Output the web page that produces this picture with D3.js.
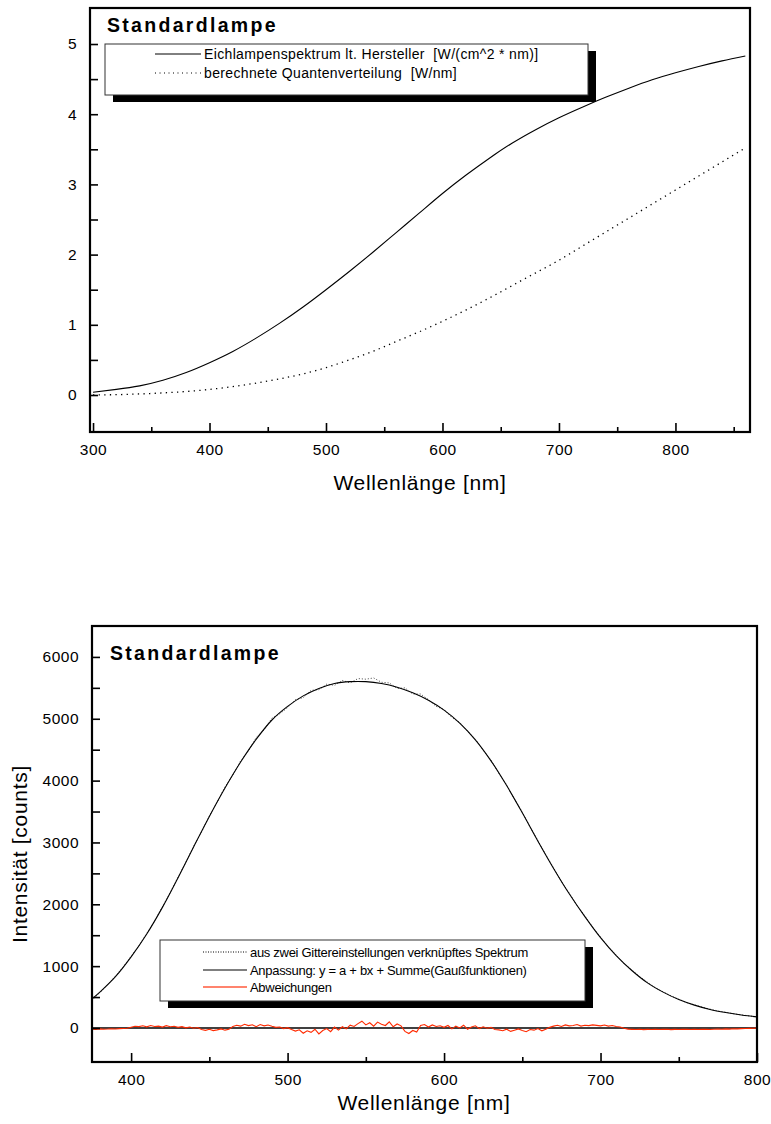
<!DOCTYPE html>
<html>
<head>
<meta charset="utf-8">
<script src="https://cdn.jsdelivr.net/npm/d3@7"></script>
<style>
  body { margin: 0; background: #fff; }
  svg text { font-family: "Liberation Sans", Arial, sans-serif; fill: #000; }
</style>
</head>
<body>
<svg id="chart" width="771" height="1124"></svg>
<script>
// ---------- Panel 1: calibration lamp ----------
const lampWavelengths = [300,320,340,360,380,400,420,440,460,480,500,520,540,560,580,600,620,640,660,680,700,720,740,760,780,800,820,840,860];
const lampSpectrum =     [0.04,0.08,0.13,0.21,0.32,0.46,0.62,0.81,1.02,1.25,1.50,1.76,2.03,2.31,2.59,2.87,3.13,3.37,3.59,3.78,3.95,4.10,4.24,4.37,4.49,4.59,4.68,4.76,4.83];
const quantumDistribution = [0.00,0.005,0.015,0.03,0.05,0.08,0.12,0.17,0.23,0.30,0.39,0.50,0.62,0.76,0.90,1.05,1.21,1.38,1.56,1.74,1.92,2.12,2.32,2.52,2.72,2.92,3.12,3.32,3.52];
const lampTicksX = [300,400,500,600,700,800];
const lampMinorX = [350,450,550,650,750,850];
const lampTicksY = [0,1,2,3,4,5];
const lampMinorY = [0.5,1.5,2.5,3.5,4.5];
const lampLegend = ["Eichlampenspektrum lt. Hersteller  [W/(cm^2 * nm)]", "berechnete Quantenverteilung  [W/nm]"];

// ---------- Panel 2: measured spectrum and fit ----------
// measured counts on a 5 nm grid, 375..800 nm
const measuredCounts = [450,570,700,840,990,1160,1330,1530,1730,1960,2190,2440,2680,2940,3170,3430,3650,3900,4090,4320,
  4480,4700,4820,5010,5080,5180,5310,5340,5460,5470,5560,5540,5620,5580,5650,5640,5660,5590,5580,5490,
  5500,5400,5400,5310,5200,5150,5020,4940,4800,4670,4490,4330,4120,3930,3700,3490,3250,3030,2800,2590,
  2370,2180,1980,1810,1630,1470,1310,1180,1040,940,830,740,650,585,520,465,410,375,335,305,
  275,255,230,212,195,182];
// fitted curve y = a + bx + sum of Gaussians
const fitWavelengths = [375,380,390,400,410,420,430,440,450,460,470,480,490,500,510,520,530,540,550,560,570,580,590,600,610,620,630,640,650,660,670,680,690,700,710,720,730,740,750,760,770,780,790,800];
const fitCounts = [470,580,830,1150,1520,1950,2430,2930,3420,3880,4300,4670,4980,5200,5370,5490,5570,5600,5600,5570,5510,5420,5300,5140,4930,4660,4320,3920,3480,3020,2580,2170,1800,1460,1170,930,730,580,460,370,300,250,210,180];
// deviations measured - fit on a 2.5 nm grid, 375..800 nm
const deviations = [
  -18,-22,-15,-20,-17,-12,-16,-10,-8,-5,
  12,28,22,35,18,40,25,30,15,38,20,27,
  10,22,2,15,-5,8,
  -25,-38,-20,-42,-30,-15,-35,-22,
  25,45,30,60,38,52,20,55,35,48,28,10,
  15,-10,5,-25,
  -50,-30,-85,-45,-70,-20,-95,-40,-10,-60,15,-35,20,-15,
  45,25,70,110,50,85,30,95,60,40,100,20,65,35,
  -55,-90,-40,-65,
  40,55,15,50,25,35,
  10,40,-15,30,0,45,-20,15,35,-10,20,-5,10,-25,
  -30,-45,-20,-55,-35,-15,-40,-60,-25,-35,-10,-45,-20,
  10,30,45,25,50,35,40,55,30,45,38,50,42,35,48,30,40,25,15,
  -5,-18,
  -22,-25,-20,-26,-22,-24,-20,-25,-23,-21,-26,-22,-24,-20,-23,-25,-21,-24,-22,-20,-25,-21,-18,-20,
  -15,-18,-12,-14,-10,-8,-6,-5,-3];
const specTicksX = [400,500,600,700,800];
const specMinorX = [450,550,650,750];
const specTicksY = [0,1000,2000,3000,4000,5000,6000];
const specMinorY = [500,1500,2500,3500,4500,5500];
const specLegend = ["aus zwei Gittereinstellungen verknüpftes Spektrum", "Anpassung: y = a + bx + Summe(Gaußfunktionen)", "Abweichungen"];

const measuredWavelengths = d3.range(375, 800.01, 5);
const deviationWavelengths = d3.range(375, 800.01, 2.5);

const svg = d3.select("#chart");
const RED = "#ff2a00";

function framePanel(g, x, y, ticks, id) {
  const [x0, x1] = x.range();
  const [y0, y1] = y.range();
  g.append("clipPath").attr("id", id).append("rect")
    .attr("x", x0).attr("y", y1).attr("width", x1 - x0).attr("height", y0 - y1);

  const axB = g.append("g").attr("transform", `translate(0,${y0})`)
    .call(d3.axisBottom(x).tickValues(ticks.x).tickSizeInner(-9).tickSizeOuter(0).tickPadding(9).tickFormat(d3.format("d")));
  const axBm = g.append("g").attr("transform", `translate(0,${y0})`)
    .call(d3.axisBottom(x).tickValues(ticks.xm).tickSizeInner(-5).tickSizeOuter(0).tickFormat(""));
  const axL = g.append("g").attr("transform", `translate(${x0},0)`)
    .call(d3.axisLeft(y).tickValues(ticks.y).tickSizeInner(-8).tickSizeOuter(0).tickPadding(13).tickFormat(d3.format("d")));
  const axLm = g.append("g").attr("transform", `translate(${x0},0)`)
    .call(d3.axisLeft(y).tickValues(ticks.ym).tickSizeInner(-8).tickSizeOuter(0).tickFormat(""));
  [axB, axBm, axL, axLm].forEach(a => {
    a.select(".domain").remove();
    a.selectAll(".tick line").attr("stroke", "#000").attr("stroke-width", 1.6);
    a.selectAll(".tick text").attr("font-size", 15.5).attr("letter-spacing", 0.5).attr("fill", "#000");
  });
  axB.selectAll(".tick text").attr("dy", "0.9em");

  g.append("rect").attr("x", x0).attr("y", y1).attr("width", x1 - x0).attr("height", y0 - y1)
    .attr("fill", "none").attr("stroke", "#000").attr("stroke-width", 2.2);
}

function panelTitle(g, x, y) {
  g.append("text").attr("x", x).attr("y", y)
    .attr("font-family", "'DejaVu Sans', sans-serif").attr("font-weight", "bold")
    .attr("font-size", 19.5).attr("letter-spacing", 2.3).text("Standardlampe");
}

function legendBox(g, x, y, w, h) {
  g.append("rect").attr("x", x + 8).attr("y", y + 7).attr("width", w).attr("height", h).attr("fill", "#000");
  g.append("rect").attr("x", x).attr("y", y).attr("width", w).attr("height", h)
    .attr("fill", "#fff").attr("stroke", "#333").attr("stroke-width", 1);
}

function axisTitle(g, x, y, text, rotate) {
  g.append("text").attr("transform", `translate(${x},${y})` + (rotate ? " rotate(-90)" : ""))
    .attr("text-anchor", "middle").attr("font-size", 21).attr("letter-spacing", 0.7).text(text);
}

// ---------- Panel 1 ----------
{
  const g = svg.append("g");
  const x = d3.scaleLinear().domain([297.4, 864]).range([90, 750]);
  const y = d3.scaleLinear().domain([-0.527, 5.513]).range([432, 8]);
  const line = d3.line().x(d => x(d[0])).y(d => y(d[1])).curve(d3.curveNatural);

  const plot = g.append("g").attr("clip-path", "url(#clipLamp)");
  plot.append("path").datum(d3.zip(lampWavelengths, quantumDistribution)).attr("d", line)
    .attr("fill", "none").attr("stroke", "#000").attr("stroke-width", 1.3).attr("stroke-dasharray", "1.3,4.3");
  plot.append("path").datum(d3.zip(lampWavelengths, lampSpectrum)).attr("d", line)
    .attr("fill", "none").attr("stroke", "#000").attr("stroke-width", 1.1);

  framePanel(g, x, y, { x: lampTicksX, xm: lampMinorX, y: lampTicksY, ym: lampMinorY }, "clipLamp");
  panelTitle(g, 107, 32);

  legendBox(g, 105, 44, 483, 51);
  const rows = [54, 73];
  g.append("line").attr("x1", 155).attr("x2", 201).attr("y1", rows[0]).attr("y2", rows[0]).attr("stroke", "#000").attr("stroke-width", 1);
  g.append("line").attr("x1", 155).attr("x2", 201).attr("y1", rows[1]).attr("y2", rows[1]).attr("stroke", "#000").attr("stroke-width", 1).attr("stroke-dasharray", "1,3.5");
  lampLegend.forEach((t, i) => {
    g.append("text").attr("x", 204).attr("y", rows[i] + 5).attr("font-size", 14).attr("letter-spacing", 0.35)
      .style("white-space", "pre").text(t);
  });

  axisTitle(g, 420, 490, "Wellenlänge [nm]", false);
}

// ---------- Panel 2 ----------
{
  const g = svg.append("g");
  const x = d3.scaleLinear().domain([375, 800]).range([92, 757]);
  const y = d3.scaleLinear().domain([-550, 6500]).range([1062, 626]);
  const line = d3.line().x(d => x(d[0])).y(d => y(d[1]));

  const plot = g.append("g").attr("clip-path", "url(#clipSpec)");
  plot.append("path").datum(d3.zip(measuredWavelengths, measuredCounts)).attr("d", line.curve(d3.curveLinear))
    .attr("fill", "none").attr("stroke", "#444").attr("stroke-width", 1).attr("stroke-dasharray", "1,2");
  plot.append("path").datum(d3.zip(fitWavelengths, fitCounts))
    .attr("d", d3.line().x(d => x(d[0])).y(d => y(d[1])).curve(d3.curveCatmullRom))
    .attr("fill", "none").attr("stroke", "#000").attr("stroke-width", 1.1);
  plot.append("line").attr("x1", x(375)).attr("x2", x(800)).attr("y1", y(0)).attr("y2", y(0))
    .attr("stroke", "#000").attr("stroke-width", 1.6);
  plot.append("path").datum(d3.zip(deviationWavelengths, deviations)).attr("d", line.curve(d3.curveLinear))
    .attr("fill", "none").attr("stroke", RED).attr("stroke-width", 1.1);

  framePanel(g, x, y, { x: specTicksX, xm: specMinorX, y: specTicksY, ym: specMinorY }, "clipSpec");
  panelTitle(g, 110, 660);

  legendBox(g, 160, 940, 425, 61);
  const rows = [952, 970, 987];
  g.append("line").attr("x1", 203).attr("x2", 247).attr("y1", rows[0]).attr("y2", rows[0]).attr("stroke", "#000").attr("stroke-width", 1).attr("stroke-dasharray", "1,1.5");
  g.append("line").attr("x1", 203).attr("x2", 247).attr("y1", rows[1]).attr("y2", rows[1]).attr("stroke", "#000").attr("stroke-width", 1.1);
  g.append("line").attr("x1", 203).attr("x2", 247).attr("y1", rows[2]).attr("y2", rows[2]).attr("stroke", "#ff5a3c").attr("stroke-width", 1.3);
  specLegend.forEach((t, i) => {
    g.append("text").attr("x", 250).attr("y", rows[i] + 4.5).attr("font-size", 13).attr("letter-spacing", -0.3).text(t);
  });

  axisTitle(g, 424, 1110, "Wellenlänge [nm]", false);
  axisTitle(g, 27, 854, "Intensität [counts]", true);
}
</script>
</body>
</html>
